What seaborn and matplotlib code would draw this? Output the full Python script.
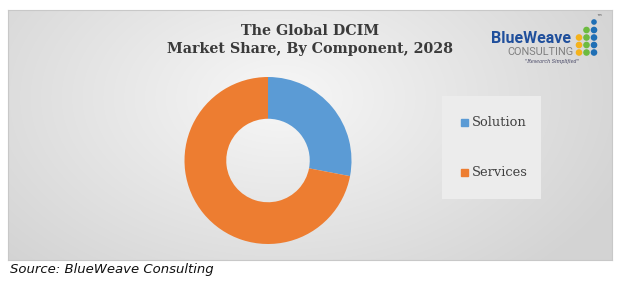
import numpy as np
import matplotlib
matplotlib.use("Agg")
import matplotlib.pyplot as plt
import seaborn as sns

categories = ["Solution", "Services"]
shares = [28, 72]
colors = ["#5b9bd5", "#ed7d31"]
title_lines = ["The Global DCIM", "Market Share, By Component, 2028"]
source_text = "Source: BlueWeave Consulting"

sns.set_theme(style="white")
plt.rcParams['font.family'] = ['DejaVu Sans']

W, H = 619, 282
fig = plt.figure(figsize=(W / 100, H / 100), dpi=100)
fig.patch.set_facecolor("white")

def fx(x):
    return x / W

def fy(y):
    return 1 - y / H

# background panel with radial gradient
bx0, by0, bx1, by1 = 8, 10, 612, 260
bg = fig.add_axes([fx(bx0), fy(by1), (bx1 - bx0) / W, (by1 - by0) / H])
ny, nx = 250, 604
yy, xx = np.mgrid[0:ny, 0:nx]
cx, cy = nx * 0.45, ny * 0.35
d = np.sqrt(((xx - cx) / (nx * 0.62)) ** 2 + ((yy - cy) / (ny * 0.95)) ** 2)
d = np.clip(d, 0, 1)
c_in = np.array([0xf7, 0xf7, 0xf7]) / 255
c_out = np.array([0xd3, 0xd3, 0xd3]) / 255
img = c_in[None, None, :] * (1 - d[..., None]) + c_out[None, None, :] * d[..., None]
bg.imshow(img, aspect="auto", extent=[0, 1, 0, 1])
bg.set_xlim(0, 1)
bg.set_ylim(0, 1)
bg.set_xticks([])
bg.set_yticks([])
for s in bg.spines.values():
    s.set_color("#c8c8c8")
    s.set_linewidth(0.8)

# donut
pcx, pcy, r = 268, 160.5, 83.5
pax = fig.add_axes([fx(pcx - r), fy(pcy + r), 2 * r / W, 2 * r / H])
pax.set_facecolor("none")
wedges, _ = pax.pie(shares, colors=colors, startangle=90, counterclock=False,
                    radius=1, wedgeprops=dict(width=0.5, edgecolor="none"))
pax.set_xlim(-1, 1)
pax.set_ylim(-1, 1)
pax.set_aspect("equal")
pax.axis("off")

# legend box
lx0, ly0, lx1, ly1 = 442, 96, 541, 199
lax = fig.add_axes([fx(lx0), fy(ly1), (lx1 - lx0) / W, (ly1 - ly0) / H])
lax.set_facecolor("#ececec")
lax.set_xticks([])
lax.set_yticks([])
for s in lax.spines.values():
    s.set_visible(False)
legend_y = [122, 172]
for cat, col, ly in zip(categories, colors, legend_y):
    fig.patches.append(plt.Rectangle((fx(461), fy(ly + 3.5)), 7 / W, 7 / H,
                                     transform=fig.transFigure, color=col))
    fig.text(fx(472), fy(ly), cat, fontsize=9.4, family="DejaVu Serif",
             color="#404040", va="center", ha="left")

# title
fig.text(fx(310), fy(31), title_lines[0], fontsize=10.3, family="DejaVu Serif",
         fontweight="bold", color="#3a3a3a", ha="center", va="center")
fig.text(fx(310), fy(49), title_lines[1], fontsize=10.3, family="DejaVu Serif",
         fontweight="bold", color="#3a3a3a", ha="center", va="center")

# logo
fig.text(fx(530.5), fy(38.5), "BlueWeave", fontsize=11.5, fontweight="bold",
         family="Roboto", color="#1f4f9c", ha="center", va="center")
fig.text(fx(540), fy(51.5), "CONSULTING", fontsize=7.8, family="Roboto",
         color="#7f7f7f", ha="center", va="center")
fig.text(fx(552), fy(61), "\"Research Simplified\"", fontsize=3.5, family="DejaVu Serif",
         style="italic", color="#404060", ha="center", va="center")
dot_cols = [("#f5b21b", [37.5, 45, 52.5]), ("#6dbb3f", [30, 37.5, 45, 52.5]),
            ("#1f6fb5", [22, 30, 37.5, 45, 52.5])]
dax = fig.add_axes([0, 0, 1, 1])
dax.set_xlim(0, W)
dax.set_ylim(H, 0)
dax.axis("off")
dax.set_facecolor("none")
for (col, rows), x in zip(dot_cols, [579, 586.5, 594]):
    for yv in rows:
        size = 2.1 if yv == 22 else 2.6
        dax.add_patch(plt.Circle((x, yv), size, color=col, transform=dax.transData))
fig.text(fx(599), fy(17), "™", fontsize=4, color="#404040", ha="center", va="center")

# source
fig.text(fx(10), fy(270), source_text, fontsize=9.5, style="italic",
         family="DejaVu Sans", color="#111111", ha="left", va="center")

fig.savefig("out.png", dpi=100)
